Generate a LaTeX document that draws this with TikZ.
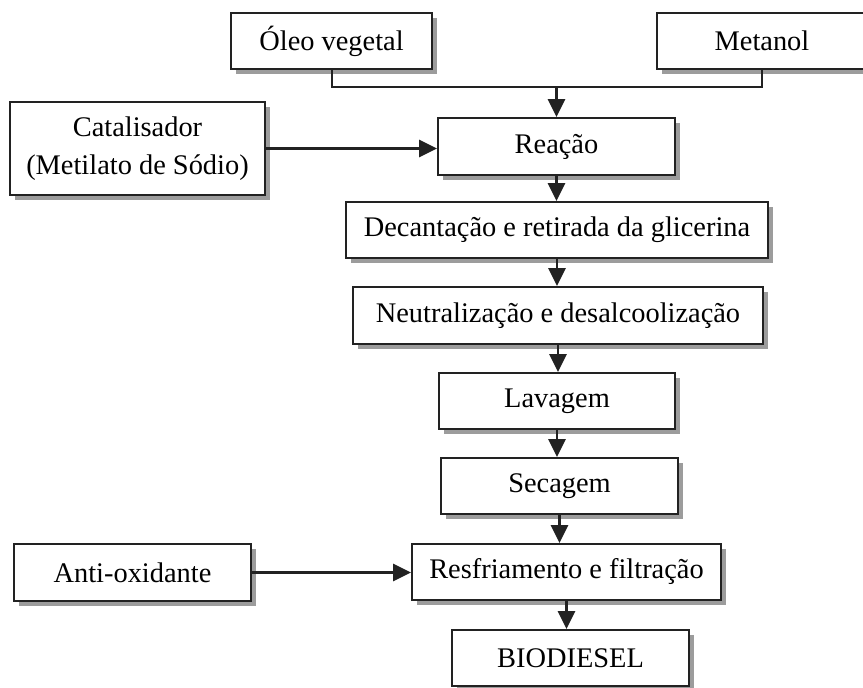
\documentclass[tikz,border=0pt]{standalone}
\usepackage{fontspec}
\setmainfont{Liberation Serif}
\usepackage{xcolor}
\usetikzlibrary{arrows.meta,shadows}

\definecolor{traco}{HTML}{222222}
\definecolor{sombra}{HTML}{9C9C9C}

\begin{document}
\begin{tikzpicture}[x=0.5pt, y=-0.5pt, >={Triangle[length=9pt,width=8.5pt]},
    caixa/.style={draw=traco, line width=1pt, fill=white, inner sep=0pt,
      minimum height=28pt, align=center,
      font=\fontsize{14.2}{19}\selectfont,
      drop shadow={shadow xshift=2.5pt, shadow yshift=-2.5pt, fill=sombra, opacity=1}},
    seta/.style={->, draw=traco, fill=traco, line width=1.4pt},
    liga/.style={draw=traco, line width=1pt}]
    \useasboundingbox (0,0) rectangle (863,687);

    \node[caixa, minimum width=100.5pt] (Oleo) at (331.5,41) {Óleo vegetal};
    \node[caixa, minimum width=105pt] (Metanol) at (762,41) {Metanol};
    \node[caixa, minimum width=127.5pt, minimum height=46.5pt] (Catal) at (137.5,148.5) {Catalisador\\(Metilato de Sódio)};
    \node[caixa, minimum width=118.5pt, minimum height=28.5pt] (Reac) at (556.5,146.5) {Reação};
    \node[caixa, minimum width=211pt] (Decant) at (557,230) {Decantação e retirada da glicerina};
    \node[caixa, minimum width=205pt, minimum height=28.5pt] (Neutr) at (558,315.5) {Neutralização e desalcoolização};
    \node[caixa, minimum width=118pt] (Lav) at (557,401) {Lavagem};
    \node[caixa, minimum width=118.5pt] (Sec) at (559.5,486) {Secagem};
    \node[caixa, minimum width=118.5pt, minimum height=28.5pt] (Antiox) at (132.5,572.5) {Anti-oxidante};
    \node[caixa, minimum width=154.5pt] (Resf) at (566.5,572) {Resfriamento e filtração};
    \node[caixa, minimum width=118.5pt] (Bio) at (570.5,658) {BIODIESEL};

    % entradas da reacao
    \coordinate (J) at (556.5,87);
    \draw[liga] (Oleo.south) |- (J) -| (Metanol.south);
    \draw[seta] (J) -- (Reac.north);
    \draw[seta] (Catal.east) -- (Catal.east -| Reac.west);

    % sequencia do processo
    \draw[seta] (Reac.south) -- (Reac.south |- Decant.north);
    \draw[seta] (Decant.south) -- (Decant.south |- Neutr.north);
    \draw[seta] (Neutr.south) -- (Neutr.south |- Lav.north);
    \draw[seta] (Lav.south) -- (Lav.south |- Sec.north);
    \draw[seta] (Sec.south) -- (Sec.south |- Resf.north);
    \draw[seta] (Antiox.east) -- (Antiox.east -| Resf.west);
    \draw[seta] (Resf.south) -- (Resf.south |- Bio.north);
\end{tikzpicture}
\end{document}
